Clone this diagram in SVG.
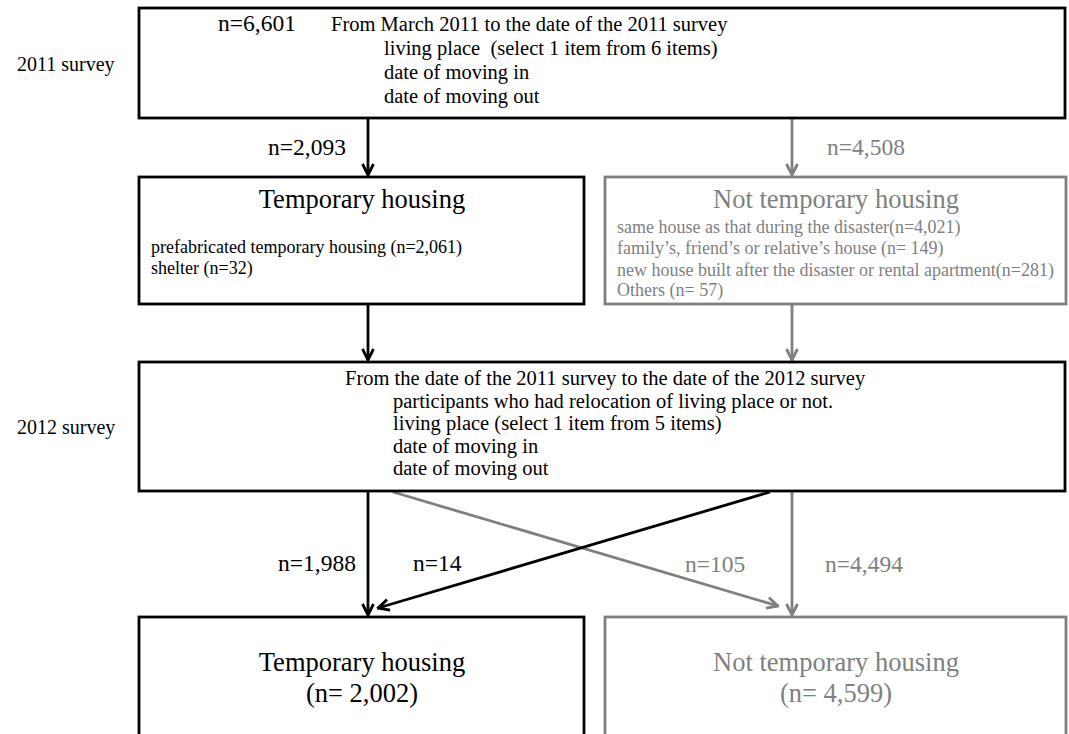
<svg xmlns="http://www.w3.org/2000/svg" width="1069" height="734" viewBox="0 0 1069 734">
<defs>
<style>
text{font-family:"Liberation Serif","Times New Roman",serif;fill:#000}
.g{fill:#7f7f7f}
.b{fill:#fff;stroke:#000;stroke-width:2.8}
.bg{fill:#fff;stroke:#7f7f7f;stroke-width:2.8}
.lk{stroke:#000;stroke-width:2.8;fill:none}
.lg{stroke:#7f7f7f;stroke-width:2.8;fill:none}
.s20{font-size:20.5px}
.s23{font-size:23.5px}
.s18{font-size:18px}
.s26{font-size:26.5px}
.side{font-size:20px}
</style>
<marker id="ak" viewBox="0 0 14 14" refX="12.5" refY="7" markerWidth="14" markerHeight="14" markerUnits="userSpaceOnUse" orient="auto"><path d="M1.5,1.5 L12.5,7 L1.5,12.5" fill="none" stroke="#000" stroke-width="2.8"/></marker>
<marker id="ag" viewBox="0 0 14 14" refX="12.5" refY="7" markerWidth="14" markerHeight="14" markerUnits="userSpaceOnUse" orient="auto"><path d="M1.5,1.5 L12.5,7 L1.5,12.5" fill="none" stroke="#7f7f7f" stroke-width="2.8"/></marker>
</defs>
<rect width="1069" height="734" fill="#fff"/>
<text x="17" y="71" class="side">2011 survey</text>
<text x="17" y="434" class="side">2012 survey</text>
<g id="connectors">
<line x1="368" y1="118" x2="368" y2="175" class="lk" marker-end="url(#ak)"/>
<line x1="792" y1="118" x2="792" y2="175" class="lg" marker-end="url(#ag)"/>
<line x1="368" y1="304" x2="368" y2="360" class="lk" marker-end="url(#ak)"/>
<line x1="792" y1="304" x2="792" y2="360" class="lg" marker-end="url(#ag)"/>
<line x1="368" y1="491" x2="368" y2="615" class="lk" marker-end="url(#ak)"/>
<line x1="792" y1="491" x2="792" y2="615" class="lg" marker-end="url(#ag)"/>
<line x1="393" y1="492" x2="778" y2="606" class="lg" marker-end="url(#ag)"/>
<line x1="770" y1="492" x2="378" y2="608" class="lk" marker-end="url(#ak)"/>
<text x="268" y="155" class="s23">n=2,093</text>
<text x="827" y="155" class="s23 g">n=4,508</text>
<text x="278" y="571" class="s23">n=1,988</text>
<text x="413" y="571" class="s23">n=14</text>
<text x="685" y="572" class="s23 g">n=105</text>
<text x="825" y="572" class="s23 g">n=4,494</text>
</g>
<g id="survey2011">
<rect x="139" y="8" width="926" height="110" class="b"/>
<text x="218" y="31" class="s23">n=6,601</text>
<text x="331" y="31" class="s20">From March 2011 to the date of the 2011 survey</text>
<text x="384" y="55" class="s20">living place&#160; (select 1 item from 6 items)</text>
<text x="384" y="79" class="s20">date of moving in</text>
<text x="384" y="103" class="s20">date of moving out</text>
</g>
<g id="temp2011">
<rect x="139" y="177" width="445" height="127" class="b"/>
<text x="362" y="208" class="s26" text-anchor="middle">Temporary housing</text>
<text x="151" y="253" class="s18">prefabricated temporary housing (n=2,061)</text>
<text x="151" y="274" class="s18">shelter (n=32)</text>
</g>
<g id="nottemp2011">
<rect x="605" y="177" width="461" height="127" class="bg"/>
<text x="836" y="208" class="s26 g" text-anchor="middle">Not temporary housing</text>
<text x="617" y="233" class="s18 g">same house as that during the disaster(n=4,021)</text>
<text x="617" y="254" class="s18 g">family’s, friend’s or relative’s house (n= 149)</text>
<text x="617" y="276" class="s18 g">new house built after the disaster or rental apartment(n=281)</text>
<text x="617" y="296" class="s18 g">Others (n= 57)</text>
</g>
<g id="survey2012">
<rect x="139" y="362" width="926" height="129" class="b"/>
<text x="345" y="385" class="s20">From the date of the 2011 survey to the date of the 2012 survey</text>
<text x="393" y="407.5" class="s20">participants who had relocation of living place or not.</text>
<text x="393" y="430" class="s20">living place (select 1 item from 5 items)</text>
<text x="393" y="452.5" class="s20">date of moving in</text>
<text x="393" y="475" class="s20">date of moving out</text>
</g>
<g id="temp2012">
<rect x="139" y="617" width="445" height="130" class="b"/>
<text x="362" y="671" class="s26" text-anchor="middle">Temporary housing</text>
<text x="362" y="702" class="s26" text-anchor="middle">(n= 2,002)</text>
</g>
<g id="nottemp2012">
<rect x="605" y="617" width="461" height="130" class="bg"/>
<text x="836" y="671" class="s26 g" text-anchor="middle">Not temporary housing</text>
<text x="836" y="702" class="s26 g" text-anchor="middle">(n= 4,599)</text>
</g>
</svg>
